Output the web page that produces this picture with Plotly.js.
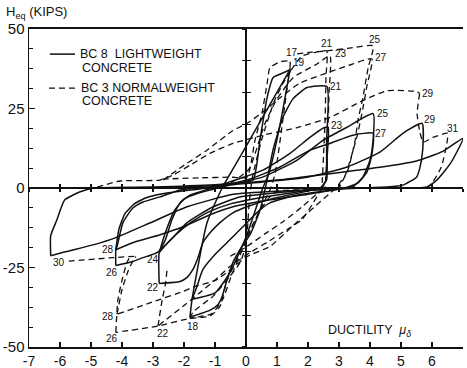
<!DOCTYPE html>
<html>
<head>
<meta charset="utf-8">
<script src="https://cdn.plot.ly/plotly-3.0.1.min.js"></script>
<style>html,body{margin:0;padding:0;background:#fff}#chart{width:467px;height:368px}</style>
</head>
<body>
<div id="chart"></div>
<script>
// ---------- Axis ticks ----------
const xTickVals = [-7,-6,-5,-4,-3,-2,-1,0,1,2,3,4,5,6,7];
const xTickText = ['-7','-6','-5','-4','-3','-2','-1','0','1','2','3','4','5','6','7'];
const yTickVals = [-50,-25,0,25,50];
const yTickText = ['-50','-25','0','25','50'];

// ---------- BC 8 lightweight concrete (solid) : ductility / Heq (kips) ----------
const bc8Load19X = [-1.81,-1.74,-1.26,-0.77,-0.3,0.3,0.9,1.42];
const bc8Load19Y = [-40.6,-35,-11,0,8,18.2,28.4,37.2];
const bc8Loop19X = [-2.0,-1.0,-0.3,0.23,0.45,0.68,0.87,1.05,1.42];
const bc8Loop19Y = [0.3,0.8,1.5,2.5,15,28.4,34.7,35.6,37.2];
const bc8Unload19X = [1.42,1.1,0.75,0.52,0.03,-0.52,-1.0,-1.74];
const bc8Unload19Y = [37.2,20,5,-0.6,-14.7,-26.6,-33,-35];
const bc8Cycle21X = [-1.81,-1.16,-0.9,-0.77,-0.61,-0.42,-0.13,0.13,0.45,0.68,0.87,1.19,1.52,1.97,2.61,2.6,2.58,2.45];
const bc8Cycle21Y = [-40.6,-38.4,-36.6,-34.1,-28.8,-23.4,-18.4,-14.7,-7,2.5,11.9,22.2,28.1,31.6,31.9,15,2.5,0];
const bc8Inner20X = [-1.74,-1.58,-1.39,-0.94,-0.52,0.03,0.45,0.77,1.5,2.5,3.5];
const bc8Inner20Y = [-35,-30.9,-25.6,-20.3,-16.3,-10.9,-6.9,-4.7,-2.5,-1,0.3];
const bc8Cycle22X = [2.45,1.5,0.8,0.03,-0.42,-0.84,-1.16,-1.39,-1.55,-1.71,-1.9,-2.13,-2.8];
const bc8Cycle22Y = [0,-2,-3.5,-5.9,-7.8,-10.9,-14.1,-17.2,-21.9,-25.6,-28.1,-29.4,-30];
const bc8Cycle23X = [-2.8,-2.8,-2.6,-2.39,-2.13,-1.8,-1.2,-0.5,0.55,1.42,2.06,2.48,2.65,2.62,2.6,2.4];
const bc8Cycle23Y = [-30,-20.3,-16.3,-10,-4.7,-2.2,-0.3,2,5.6,10.9,15.9,18.8,19.1,10,2.5,0];
const bc8Cycle24X = [2.4,1.5,0.5,-0.5,-1.2,-1.8,-2.3,-2.6,-2.8];
const bc8Cycle24Y = [0,-1.5,-3,-5,-7.5,-11,-15,-18,-20.3];
const bc8Cycle25X = [-2.8,-2.6,-2.3,-2.0,-1.5,-0.5,0.55,1.65,2.48,3.26,4.1,4.1,4.0,3.77,3.45];
const bc8Cycle25Y = [-20.3,-14,-7,-3.5,-1.5,1,3.5,8.8,15,19.1,23.4,15,8.8,3.4,0.3];
const bc8Cycle26X = [3.45,2.5,1.5,0.5,-0.2,-1.06,-1.9,-2.4,-2.87,-3.32,-3.65,-4.2];
const bc8Cycle26Y = [0.3,-0.5,-1,-2,-2.8,-5.9,-10.9,-16,-20.3,-21.9,-23.1,-24.4];
const bc8Cycle27X = [-4.2,-4.2,-4.16,-3.97,-3.65,-3.32,-2.77,-2.13,-1.0,0.03,1.1,2.06,2.7,3.45,4.1,4.05,3.9,3.6,3.2];
const bc8Cycle27Y = [-24.4,-19.4,-18.4,-10.9,-6.3,-4.4,-2.8,-0.6,0.5,2.5,6.6,11.9,14,16.6,17.2,10,5,1.5,0];
const bc8Cycle28X = [3.2,2,0.35,-0.42,-1.16,-2.03,-2.77,-3.65,-4.2];
const bc8Cycle28Y = [0,-2,-4.4,-5.9,-8.4,-12.2,-14.7,-17.2,-19.4];
const bc8Cycle29X = [-4.2,-4.1,-3.9,-3.6,-3.2,-2.5,-1.5,-0.5,0.55,1.97,3.26,4.32,5.06,5.68,5.7,5.6,5.5,5.06,4.55];
const bc8Cycle29Y = [-19.4,-13,-8,-5,-3,-1.5,-0.3,1,1.9,3.4,6.6,11.3,17.2,20.3,12,6,3.4,0.9,0.3];
const bc8Cycle30X = [4.55,3,1,-0.42,-1.9,-3.1,-4.2,-4.9,-5.8,-6.3];
const bc8Cycle30Y = [0.3,-0.3,-1,-2,-5.9,-11,-15.6,-17.8,-20,-21.3];
const bc8Cycle31X = [-6.3,-6.3,-6.1,-5.85,-5.35,-4.9,-3,-1,1,2.71,4.32,5.5,6.35,7.0,6.6,6.16,5.84,5.5];
const bc8Cycle31Y = [-21.3,-15,-10,-3.8,-1.2,0,0.3,1,2.5,4.5,6.5,8.5,11.5,15.6,7.8,2.5,0.3,0];

// ---------- BC 3 normalweight concrete (dashed) ----------
const bc3Cycle17X = [-2.7,-1.5,-0.5,0.03,0.29,0.52,0.68,0.77,1.1,1.35,1.42,1.42];
const bc3Cycle17Y = [2.8,3.2,3.4,3.4,15,23.7,32.8,37.8,39.7,40,40,37.8];
const bc3Cycle18X = [1.42,1.25,1.1,0.95,0.8,0.55,0.25,-0.1,-0.45,-0.75,-1.1,-1.81];
const bc3Cycle18Y = [37.8,26,15,5,0,-5,-11,-19,-27,-35,-39.5,-41];
const bc3Cycle19X = [-1.81,-1.71,-1.06,-0.52,-0.19,0.0,0.1,0.2,0.5,0.9,1.2,1.45];
const bc3Cycle19Y = [-41,-39,-34,-27.8,-23.4,-18,-5,3,15,27,33,37];
const bc3Cycle21X = [1.45,1.8,2.2,2.6,2.58,2.55,2.5,2.45];
const bc3Cycle21Y = [37,41.5,42.6,43.1,35,21,10,0];
const bc3Cycle22X = [2.45,2.13,1.8,1.32,0.71,0.13,-0.52,-1.0,-1.5,-2.03,-2.84];
const bc3Cycle22Y = [0,-5.3,-10,-13.1,-16.9,-20.3,-24.7,-29,-33,-37.2,-43.4];
const bc3Unload22X = [-2.84,-2.7,-2.6,-2.55];
const bc3Unload22Y = [-43.4,-35,-30.3,-26];
const bc3Cycle23X = [-0.5,0.1,0.6,1.0,1.52,2.29,2.71,2.68,2.64,2.6,2.55];
const bc3Cycle23Y = [1.5,6,20,28,34.7,39,41.6,30,18,8,0];
const bc3Cycle24X = [2.5,1.8,1.19,0.6,0.03,-0.6];
const bc3Cycle24Y = [0,-6,-10.6,-14.5,-18.4,-22];
const bc3Cycle25X = [1.65,2.1,2.6,3.35,4.1,3.94,3.77,3.61,3.52,3.3,3.0];
const bc3Cycle25Y = [42.2,42.7,43.1,44,44.7,37.8,28.4,21.2,15,6,0];
const bc3Cycle26X = [3.0,2.0,1.0,0.68,0.35,0.03,-0.29,-0.61,-0.84,-1.16,-1.81,-2.84,-4.2];
const bc3Cycle26Y = [0,-0.5,-1,-3.8,-9,-15.3,-22.5,-28.8,-37.2,-40.3,-41,-43.4,-45.4];
const bc3Unload26X = [-4.2,-4.13,-3.97,-3.84,-3.74];
const bc3Unload26Y = [-45.4,-35,-27.8,-23.4,-21.6];
const bc3Cycle27X = [-2.68,-1.9,-1.26,-0.42,0.03,0.52,1.1,1.74,2.5,3.3,4.06,3.9,3.75,3.6,3.4,3.2,2.9];
const bc3Cycle27Y = [2.5,7.8,11.9,18.1,20.3,23.7,28.4,33,35.8,38.5,40.6,32,24,17,10,4,0];
const bc3Cycle28X = [2.9,2.2,1.5,0.77,0.03,-0.94,-1.74,-2.03,-3.03,-4.16];
const bc3Cycle28Y = [0,-6,-12,-18.4,-21.6,-28.8,-31.3,-32.5,-35.9,-39.7];
const bc3Unload28X = [-4.16,-4.0,-3.8,-3.65,-3.55];
const bc3Unload28Y = [-39.7,-32,-26,-23,-21.6];
const bc3Cycle29X = [-4.8,-4.06,-2.77,-2.35,-1.8,-1.16,-0.42,0.5,1.65,2.71,3.77,4.55,5.52,5.6];
const bc3Cycle29Y = [0.3,2.2,2.5,4.1,7.2,10.9,14,16.5,19,22.2,27.5,30.6,30.3,29.7];
const bc3Cycle30X = [-3.6,-4.29,-5.84];
const bc3Cycle30Y = [-21.5,-21.9,-23.1];
const bc3Cycle31X = [5.6,5.52,5.6,5.68,5.72,6.03,6.5,6.48,6.3,6.03,5.84];
const bc3Cycle31Y = [29.7,23.4,18,15,14.4,15.9,17.2,14,6.6,1.9,0];

// ---------- Cycle number labels ----------
const labelText = ['17','19','21','23','25','27','21','29','25','23','27','29','31','28','30','26','24','22','28','22','26','18'];
const labelX = [1.48,1.72,2.61,3.05,4.16,4.34,2.9,5.86,4.41,2.92,4.37,5.92,6.67,-4.45,-6.03,-4.32,-3.0,-3.0,-4.45,-2.68,-4.32,-1.71];
const labelY = [42.6,39.4,45.3,42.2,46.6,41.0,32.0,29.8,23.4,19.7,17.2,21.6,18.8,-19.4,-23.5,-26.7,-22.6,-31.4,-40.5,-45.9,-47.2,-43.7];

// ---------- Legend ----------
const seriesNames = ['BC 8  LIGHTWEIGHT', 'BC 3 NORMALWEIGHT'];

const bc8Curves = [
  [bc8Load19X,bc8Load19Y],[bc8Loop19X,bc8Loop19Y],[bc8Unload19X,bc8Unload19Y],
  [bc8Cycle21X,bc8Cycle21Y],[bc8Inner20X,bc8Inner20Y],[bc8Cycle22X,bc8Cycle22Y],
  [bc8Cycle23X,bc8Cycle23Y],[bc8Cycle24X,bc8Cycle24Y],[bc8Cycle25X,bc8Cycle25Y],
  [bc8Cycle26X,bc8Cycle26Y],[bc8Cycle27X,bc8Cycle27Y],[bc8Cycle28X,bc8Cycle28Y],
  [bc8Cycle29X,bc8Cycle29Y],[bc8Cycle30X,bc8Cycle30Y],[bc8Cycle31X,bc8Cycle31Y]
];
const bc3Curves = [
  [bc3Cycle17X,bc3Cycle17Y],[bc3Cycle18X,bc3Cycle18Y],[bc3Cycle19X,bc3Cycle19Y],
  [bc3Cycle21X,bc3Cycle21Y],[bc3Cycle22X,bc3Cycle22Y],[bc3Unload22X,bc3Unload22Y],
  [bc3Cycle23X,bc3Cycle23Y],[bc3Cycle24X,bc3Cycle24Y],[bc3Cycle25X,bc3Cycle25Y],
  [bc3Cycle26X,bc3Cycle26Y],[bc3Unload26X,bc3Unload26Y],[bc3Cycle27X,bc3Cycle27Y],
  [bc3Cycle28X,bc3Cycle28Y],[bc3Unload28X,bc3Unload28Y],[bc3Cycle29X,bc3Cycle29Y],
  [bc3Cycle30X,bc3Cycle30Y],[bc3Cycle31X,bc3Cycle31Y]
];

const FONT = 'Liberation Sans, Arial, sans-serif';
const traces = [];
bc8Curves.forEach(([x,y]) => traces.push({
  x, y, type:'scatter', mode:'lines', name: seriesNames[0], legendgroup:'bc8', showlegend:false,
  line:{color:'#111', width:1.5, shape:'spline', smoothing:0.5}, hoverinfo:'skip'
}));
bc3Curves.forEach(([x,y]) => traces.push({
  x, y, type:'scatter', mode:'lines', name: seriesNames[1], legendgroup:'bc3', showlegend:false,
  line:{color:'#111', width:1.3, dash:'6px,4px', shape:'spline', smoothing:0.5}, hoverinfo:'skip'
}));
// overlay axes used only for the crossing tick marks along the zero lines
traces.push({x:[null], y:[null], xaxis:'x2', yaxis:'y2', type:'scatter', mode:'lines', showlegend:false, hoverinfo:'skip'});
traces.push({x:[null], y:[null], xaxis:'x3', yaxis:'y3', type:'scatter', mode:'lines', showlegend:false, hoverinfo:'skip'});

const annotations = labelText.map((t,i) => ({
  x: labelX[i], y: labelY[i], xref:'x', yref:'y', text:t, showarrow:false,
  font:{family:FONT, size:10, color:'#111'}, xanchor:'center', yanchor:'middle'
}));
// legend texts
const legTxt = [
  [seriesNames[0], 0.113, 0.921], ['CONCRETE', 0.118, 0.877],
  [seriesNames[1], 0.115, 0.814], ['CONCRETE', 0.118, 0.773]
];
legTxt.forEach(([t,x,y]) => annotations.push({
  x, y, xref:'paper', yref:'paper', text:t, showarrow:false, xanchor:'left', yanchor:'middle',
  font:{family:FONT, size:12.5, color:'#111'}
}));
annotations.push({x:-0.057, y:1.052, xref:'paper', yref:'paper', xanchor:'left', yanchor:'middle',
  text:'H<sub>eq</sub> (KIPS)', showarrow:false, font:{family:FONT, size:13, color:'#111'}});
annotations.push({x:0.685, y:0.05, xref:'paper', yref:'paper', xanchor:'left', yanchor:'middle',
  text:'DUCTILITY  <i>μ<sub>δ</sub></i>', showarrow:false, font:{family:FONT, size:12.5, color:'#111'}});

const shapes = [
  {type:'line', xref:'paper', yref:'paper', x0:0.048, x1:0.106, y0:0.921, y1:0.921, line:{color:'#111', width:1.5}},
  {type:'line', xref:'paper', yref:'paper', x0:0.046, x1:0.106, y0:0.814, y1:0.814, line:{color:'#111', width:1.3, dash:'6px,4px'}}
];

const layout = {
  width:467, height:368,
  margin:{l:29, r:4, t:29, b:21},
  paper_bgcolor:'#fff', plot_bgcolor:'#fff',
  showlegend:false,
  font:{family:FONT, color:'#111'},
  xaxis:{range:[-7,7], tickvals:xTickVals, ticktext:xTickText, ticks:'inside', ticklen:5, tickwidth:1.2, tickcolor:'#111',
    showline:true, linewidth:1.8, linecolor:'#111', mirror:true, showgrid:false,
    zeroline:true, zerolinecolor:'#111', zerolinewidth:1.5, tickfont:{family:FONT, size:14, color:'#111'}, fixedrange:true},
  yaxis:{range:[-50,50], tickvals:yTickVals, ticktext:yTickText, ticks:'inside', ticklen:6, tickwidth:1.2, tickcolor:'#111',
    minor:{tickvals:[-43.75,-37.5,-31.25,-18.75,-12.5,-6.25,6.25,12.5,18.75,31.25,37.5,43.75], ticks:'inside', ticklen:4, tickcolor:'#111', tickwidth:1},
    showline:true, linewidth:1.5, linecolor:'#111', showgrid:false,
    zeroline:true, zerolinecolor:'#111', zerolinewidth:1.5, tickfont:{family:FONT, size:15, color:'#111'}, fixedrange:true},
  xaxis2:{overlaying:'x', range:[-7,7], anchor:'free', position:0.5, side:'bottom', tickvals:xTickVals, ticks:'inside', ticklen:4,
    tickcolor:'#111', tickwidth:1.2, showticklabels:false, showgrid:false, zeroline:false, showline:false},
  yaxis2:{overlaying:'y', range:[-50,50], anchor:'free', position:0.5, side:'left', dtick:10, tick0:0, ticks:'inside', ticklen:4,
    tickcolor:'#111', tickwidth:1.2, showticklabels:false, showgrid:false, zeroline:false, showline:false},
  xaxis3:{overlaying:'x', range:[-7,7], anchor:'free', position:0.5, side:'bottom', tickvals:xTickVals, ticks:'outside', ticklen:3,
    tickcolor:'#111', tickwidth:1.2, showticklabels:false, showgrid:false, zeroline:false, showline:false},
  yaxis3:{overlaying:'y', range:[-50,50], anchor:'free', position:0.5, side:'left', dtick:10, tick0:0, ticks:'outside', ticklen:4,
    tickcolor:'#111', tickwidth:1.2, showticklabels:false, showgrid:false, zeroline:false, showline:false},
  annotations, shapes
};

Plotly.newPlot('chart', traces, layout, {staticPlot:true, displayModeBar:false});
</script>
</body>
</html>
